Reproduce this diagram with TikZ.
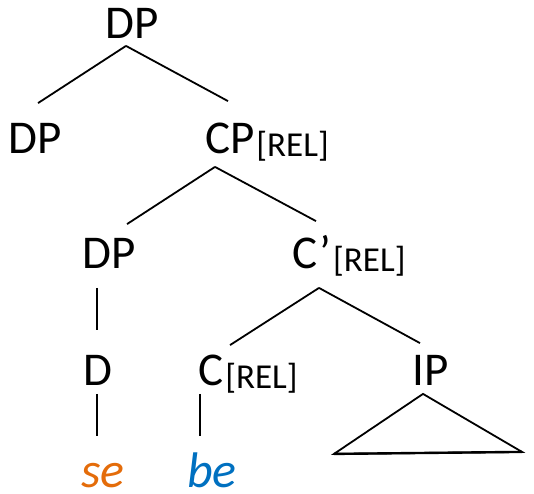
\documentclass[tikz,border=0pt]{standalone}
\usepackage{fontspec}
\setmainfont{Carlito}
\usetikzlibrary{calc}
\definecolor{seorange}{HTML}{E46C0A}
\definecolor{beblue}{HTML}{0070C0}

\begin{document}
\begin{tikzpicture}[x=1pt, y=-1pt, line width=1.8pt,
  cat/.style={font=\fontsize{47}{52}\selectfont, inner sep=0pt,
    text height=29pt, text depth=0pt, anchor=base},
  feat/.style={font=\fontsize{35}{40}\selectfont, inner sep=0pt,
    anchor=base west, yshift=-3pt},
  word/.style={font=\fontsize{50}{56}\selectfont\itshape, inner sep=0pt,
    text height=35pt, text depth=0pt, anchor=base}]

  \useasboundingbox (0,0) rectangle (534,493);

  % categories
  \node[cat] (root) at (132,38) {DP};
  \node[cat] (dpl) at (35,153) {DP};
  \node[cat] (cp) at (230,153) {CP};
  \node[feat] (cpf) at (cp.base east) {[REL]};
  \node[cat] (dp) at (109,268) {DP};
  \node[cat] (cbar) at (312,268) {C’};
  \node[feat] (cbarf) at (cbar.base east) {[REL]};
  \node[cat] (d) at (98,385) {D};
  \node[cat] (c) at (211,385) {C};
  \node[feat] (cf) at (c.base east) {[REL]};
  \node[cat] (ip) at (431,385) {IP};

  % words
  \node[word, text=seorange] (se) at (103,487) {se};
  \node[word, text=beblue] (be) at (212,487) {be};

  % branches
  \draw ([shift={(-6,7)}]root.south) -- ([shift={(3,-20)}]dpl.north);
  \draw ([shift={(-6,7)}]root.south) -- ([shift={(-2,-22)}]cp.north);
  \draw ([shift={(-15,13)}]cp.south) -- ([shift={(18,-14)}]dp.north);
  \draw ([shift={(-15,13)}]cp.south) -- ([shift={(4,-17)}]cbar.north);
  \draw ([shift={(7,19)}]cbar.south) -- ([shift={(19,-10)}]c.north);
  \draw ([shift={(7,19)}]cbar.south) -- ([shift={(-11,-12)}]ip.north);
  \draw ([shift={(-12,19)}]dp.south) -- ([shift={(-1,-25)}]d.north);
  \draw ([shift={(-1,8)}]d.south) -- ([shift={(-6,-15)}]se.north);
  \draw ([shift={(-11,8)}]c.south) -- ([shift={(-12,-15)}]be.north);

  % IP triangle
  \coordinate (iptop) at ([shift={(-8,8)}]ip.south);
  \coordinate (ipl) at ($(iptop)+(-89,60)$);
  \coordinate (ipr) at ($(iptop)+(99,58)$);
  \draw (iptop) -- (ipl) -- (ipr) -- cycle;
  \draw[line width=2.4pt] (ipl) -- (ipr);
\end{tikzpicture}
\end{document}
